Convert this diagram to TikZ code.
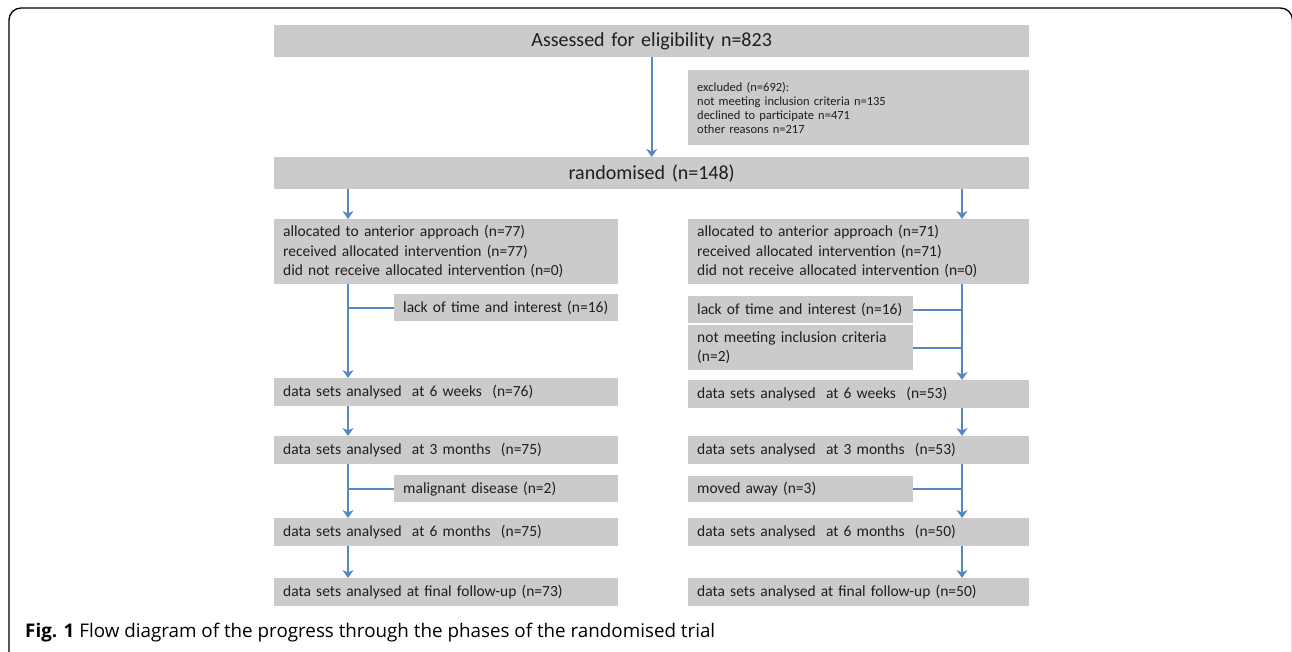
\documentclass[tikz,border=0pt]{standalone}
\usepackage{fontspec}
\usepackage{tikz}
\usetikzlibrary{arrows.meta,positioning}
\setmainfont{Carlito}
\newfontfamily\capfont{Open Sans}
\definecolor{boxgray}{RGB}{203,203,203}
\definecolor{flowblue}{RGB}{84,135,196}
\definecolor{txtdark}{RGB}{30,30,30}

\tikzset{
  box/.style={fill=boxgray, anchor=north west, inner xsep=9pt, inner ysep=0pt,
    align=left, text=txtdark, font=\fontsize{15.5}{19.5}\selectfont},
  widebox/.style={box, text width=326pt, minimum height=#1},
  smallbox/.style={box, text width=207pt, minimum height=#1},
  topbox/.style={box, text width=737pt, minimum height=32pt, align=center,
    font=\fontsize{20}{22}\selectfont},
  flow/.style={draw=flowblue, line width=2pt},
  arr/.style={flow, -{Stealth[length=8pt,width=11pt,inset=2.5pt]}}
}

\begin{document}
\begin{tikzpicture}[x=1pt,y=-1pt]
\useasboundingbox (0,0) rectangle (1292,651);
\clip (0,0) rectangle (1292,651);
\draw[line width=1.3pt, rounded corners=12pt] (9,8) rectangle (1292.5,664);

% top part
\node[topbox] (assess) at (274,25) {Assessed for eligibility n=823};
\node[box, text width=323pt, minimum height=75pt,
  font=\fontsize{12.5}{14}\selectfont] (excl) at (688,70)
  {excluded (n=692):\\ not meeting inclusion criteria n=135\\
   declined to participate n=471\\ other reasons n=217};
\node[topbox] (random) at (274,157) {randomised (n=148)};
\draw[arr] (assess) -- (random);

\coordinate (colL) at (348,200);
\coordinate (colR) at (962,200);

% left arm
\node[widebox=65pt] (allocL) at (274,219)
  {allocated to anterior approach (n=77)\\ received allocated intervention (n=77)\\
   did not receive allocated intervention (n=0)};
\node[smallbox=27pt, text width=206pt] (lackL) at (394,294) {lack of time and interest (n=16)};
\node[widebox=28pt] (wk6L) at (274,378) {data sets analysed\ \ at 6 weeks\ \ (n=76)};
\node[widebox=28pt] (mo3L) at (274,436) {data sets analysed\ \ at 3 months\ \ (n=75)};
\node[smallbox=27pt, text width=206pt] (malL) at (394,475) {malignant disease (n=2)};
\node[widebox=28pt] (mo6L) at (274,518) {data sets analysed\ \ at 6 months\ \ (n=75)};
\node[widebox=28pt] (finL) at (274,578) {data sets analysed at final follow-up (n=73)};

\draw[arr] (colL |- random.south) -- (colL |- allocL.north);
\draw[arr] (colL |- allocL.south) -- (colL |- wk6L.north);
\draw[flow] (lackL.west) -- (colL |- lackL.west);
\draw[arr] (colL |- wk6L.south) -- (colL |- mo3L.north);
\draw[arr] (colL |- mo3L.south) -- (colL |- mo6L.north);
\draw[flow] (malL.west) -- (colL |- malL.west);
\draw[arr] (colL |- mo6L.south) -- (colL |- finL.north);

% right arm
\node[widebox=65pt, text width=323pt] (allocR) at (688,219)
  {allocated to anterior approach (n=71)\\ received allocated intervention (n=71)\\
   did not receive allocated intervention (n=0)};
\node[smallbox=27pt] (lackR) at (688,296) {lack of time and interest (n=16)};
\node[smallbox=45pt] (critR) at (688,325) {not meeting inclusion criteria\\ (n=2)};
\node[widebox=28pt, text width=323pt] (wk6R) at (688,380) {data sets analysed\ \ at 6 weeks\ \ (n=53)};
\node[widebox=28pt, text width=323pt] (mo3R) at (688,436) {data sets analysed\ \ at 3 months\ \ (n=53)};
\node[smallbox=26pt] (movR) at (688,476) {moved away (n=3)};
\node[widebox=28pt, text width=323pt] (mo6R) at (688,518) {data sets analysed\ \ at 6 months\ \ (n=50)};
\node[widebox=28pt, text width=323pt] (finR) at (688,578) {data sets analysed at final follow-up (n=50)};

\draw[arr] (colR |- random.south) -- (colR |- allocR.north);
\draw[arr] (colR |- allocR.south) -- (colR |- wk6R.north);
\draw[flow] (lackR.east) -- (colR |- lackR.east);
\draw[flow] (critR.east) -- (colR |- critR.east);
\draw[arr] (colR |- wk6R.south) -- (colR |- mo3R.north);
\draw[arr] (colR |- mo3R.south) -- (colR |- mo6R.north);
\draw[flow] (movR.east) -- (colR |- movR.east);
\draw[arr] (colR |- mo6R.south) -- (colR |- finR.north);

% caption
\node[anchor=west, inner sep=0pt, font=\capfont\fontsize{18.8}{22}\selectfont] (cap) at (25,633)
  {\textbf{Fig. 1} Flow diagram of the progress through the phases of the randomised trial};
\end{tikzpicture}
\end{document}
